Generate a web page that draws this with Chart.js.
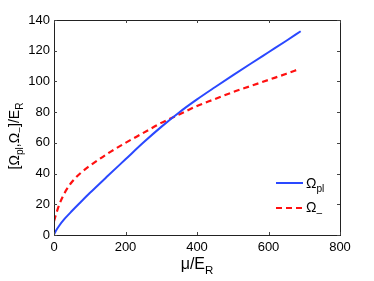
<!DOCTYPE html>
<html>
<head>
<meta charset="utf-8">
<script src="https://cdn.jsdelivr.net/npm/chart.js@4.4.0/dist/chart.umd.min.js"></script>
<style>
  html, body { margin: 0; padding: 0; background: #fff; }
  #wrap { width: 374px; height: 281px; }
</style>
</head>
<body>
<div id="wrap"><canvas id="c"></canvas></div>
<script>
// values
const muPl = [0, 5, 15, 30, 50, 75, 100, 150, 200, 250, 300, 350, 400, 450, 500, 550, 600, 650, 690];
const omegaPl = [0.3, 2.6, 6.2, 10.6, 15.6, 21.5, 27.3, 38.4, 49.3, 60.2, 70.4, 79.8, 88.3, 96.2, 103.9, 111.5, 119, 126.5, 132.7];
const muMinus = [0, 5, 15, 30, 50, 75, 100, 150, 200, 250, 300, 350, 400, 450, 500, 550, 600, 650, 685];
const omegaMinus = [9, 13, 20, 27.5, 34.5, 40.5, 45, 53, 60, 66.5, 73, 78.5, 84, 88.5, 93, 97, 101, 105, 108];
const xTicks = [0, 200, 400, 600, 800];
const yTicks = [0, 20, 40, 60, 80, 100, 120, 140];

const FONT = '"Liberation Sans", Arial, sans-serif';
const BLUE = '#2a48ff';
const RED = '#ff1010';

function toPoints(xs, ys) {
  return xs.map((x, i) => ({ x: x, y: ys[i] }));
}

// draws text with a subscript part: parts = [[text, isSub], ...]
function drawSubText(ctx, parts, x, y, size) {
  let cx = x;
  parts.forEach(p => {
    const s = p[1] ? size * 0.72 : size;
    ctx.font = s + 'px ' + FONT;
    ctx.fillText(p[0], cx, p[1] ? y + size * 0.3 : y);
    cx += ctx.measureText(p[0]).width;
  });
  return cx - x;
}

function measureSubText(ctx, parts, size) {
  let w = 0;
  parts.forEach(p => {
    ctx.font = (p[1] ? size * 0.72 : size) + 'px ' + FONT;
    w += ctx.measureText(p[0]).width;
  });
  return w;
}

const matlabFrame = {
  id: 'matlabFrame',
  afterDraw(chart) {
    const ctx = chart.ctx;
    const a = chart.chartArea;
    const xs = chart.scales.x, ys = chart.scales.y;
    ctx.save();
    // box
    ctx.lineWidth = 1;
    ctx.strokeStyle = '#222';
    ctx.strokeRect(Math.round(a.left) + 0.5, Math.round(a.top) + 0.5,
      Math.round(a.right - a.left), Math.round(a.bottom - a.top));
    // inward ticks
    ctx.strokeStyle = '#444';
    ctx.beginPath();
    xTicks.forEach(v => {
      const px = Math.round(xs.getPixelForValue(v)) + 0.5;
      ctx.moveTo(px, a.bottom); ctx.lineTo(px, a.bottom - 3);
      ctx.moveTo(px, a.top); ctx.lineTo(px, a.top + 3);
    });
    yTicks.forEach(v => {
      const py = Math.round(ys.getPixelForValue(v)) + 0.5;
      ctx.moveTo(a.left, py); ctx.lineTo(a.left + 3, py);
      ctx.moveTo(a.right, py); ctx.lineTo(a.right - 3, py);
    });
    ctx.stroke();

    ctx.fillStyle = '#000';
    ctx.textBaseline = 'alphabetic';
    ctx.textAlign = 'left';
    // x title
    const xt = [['\u03bc/E', false], ['R', true]];
    const xw = measureSubText(ctx, xt, 16);
    drawSubText(ctx, xt, (a.left + a.right) / 2 - xw / 2, 269, 16);
    // y title (rotated)
    const yt = [['[\u03a9', false], ['pl', true], [',\u03a9', false], ['\u2212', true], [']/E', false], ['R', true]];
    const yw = measureSubText(ctx, yt, 14);
    ctx.save();
    ctx.translate(19, 136);
    ctx.rotate(-Math.PI / 2);
    drawSubText(ctx, yt, -yw / 2, 0, 14);
    ctx.restore();

    // legend
    ctx.lineWidth = 2;
    ctx.strokeStyle = BLUE;
    ctx.setLineDash([]);
    ctx.beginPath(); ctx.moveTo(276, 183); ctx.lineTo(303, 183); ctx.stroke();
    ctx.strokeStyle = RED;
    ctx.setLineDash([6, 4]);
    ctx.beginPath(); ctx.moveTo(276, 208); ctx.lineTo(303, 208); ctx.stroke();
    ctx.setLineDash([]);
    drawSubText(ctx, [['\u03a9', false], ['pl', true]], 306, 188, 14);
    drawSubText(ctx, [['\u03a9', false], ['\u2013', true]], 306, 212, 14);
    ctx.restore();
  }
};

new Chart(document.getElementById('c'), {
  type: 'scatter',
  data: {
    datasets: [
      {
        label: '\u03a9pl',
        data: toPoints(muPl, omegaPl),
        showLine: true,
        borderColor: BLUE,
        borderWidth: 2,
        pointRadius: 0,
        cubicInterpolationMode: 'monotone'
      },
      {
        label: '\u03a9-',
        data: toPoints(muMinus, omegaMinus),
        showLine: true,
        borderColor: RED,
        borderWidth: 2.2,
        borderDash: [6, 4],
        pointRadius: 0,
        cubicInterpolationMode: 'monotone'
      }
    ]
  },
  options: {
    responsive: true,
    maintainAspectRatio: false,
    animation: false,
    layout: { padding: { left: 0, top: 20, right: 34, bottom: 0 } },
    plugins: { legend: { display: false }, tooltip: { enabled: false } },
    scales: {
      x: {
        type: 'linear',
        min: 0, max: 800,
        afterFit: s => { s.height = 46; },
        afterBuildTicks: s => { s.ticks = xTicks.map(v => ({ value: v })); },
        grid: { display: false, drawTicks: false },
        border: { display: false },
        ticks: { color: '#000', padding: 5, font: { family: FONT, size: 13 } }
      },
      y: {
        min: 0, max: 140,
        afterFit: s => { s.width = 54; },
        afterBuildTicks: s => { s.ticks = yTicks.map(v => ({ value: v })); },
        grid: { display: false, drawTicks: false },
        border: { display: false },
        ticks: { color: '#000', padding: 4, font: { family: FONT, size: 13 } }
      }
    }
  },
  plugins: [matlabFrame]
});
</script>
</body>
</html>
